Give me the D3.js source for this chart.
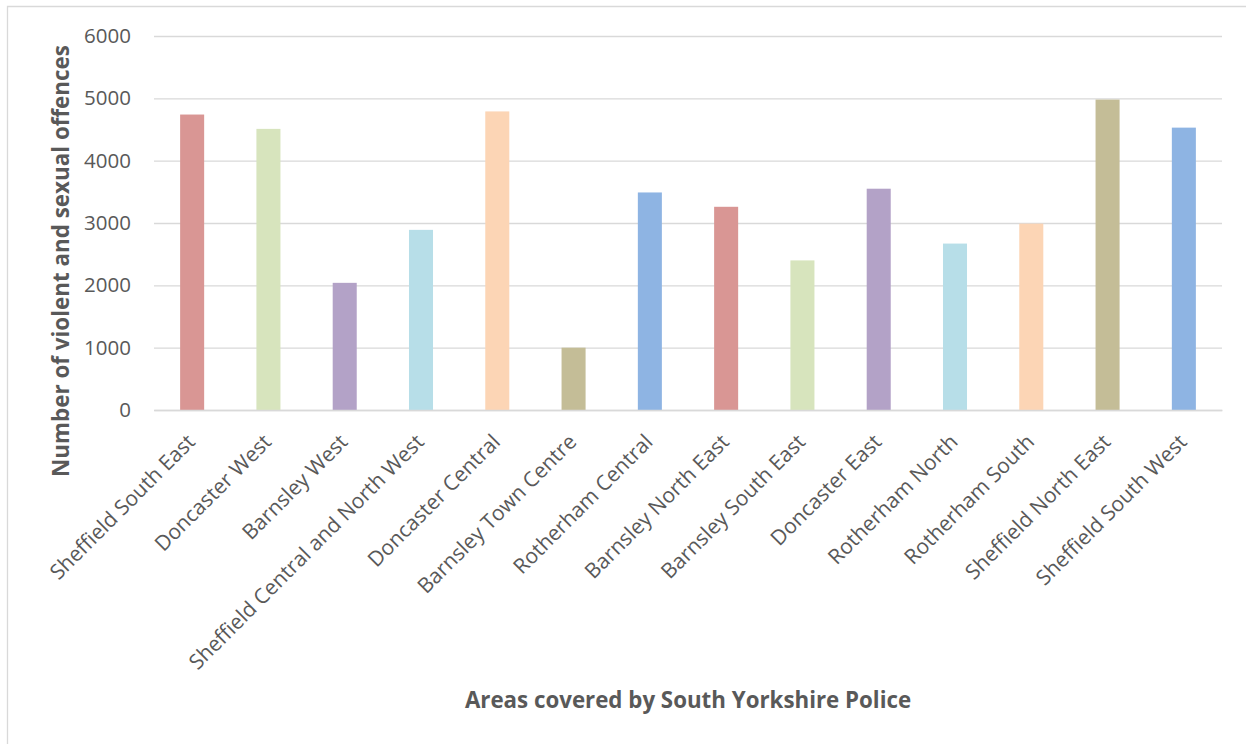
<!DOCTYPE html>
<html>
<head>
<meta charset="utf-8">
<script src="https://cdn.jsdelivr.net/npm/d3@7"></script>
<style>
  html, body { margin: 0; padding: 0; background: #ffffff; }
  svg { display: block; }
  text { font-family: "Open Sans", Lato, sans-serif; fill: #595959; }
</style>
</head>
<body>
<svg id="chart" width="1246" height="744"></svg>
<script>
// Areas covered by South Yorkshire Police
const categories = [
  "Sheffield South East",
  "Doncaster West",
  "Barnsley West",
  "Sheffield Central and North West",
  "Doncaster Central",
  "Barnsley Town Centre",
  "Rotherham Central",
  "Barnsley North East",
  "Barnsley South East",
  "Doncaster East",
  "Rotherham North",
  "Rotherham South",
  "Sheffield North East",
  "Sheffield South West"
];

// Number of violent and sexual offences per area
const offences = [4740, 4510, 2040, 2890, 4790, 1000, 3490, 3260, 2400, 3550, 2670, 2990, 4980, 4530];

const yTicks = [0, 1000, 2000, 3000, 4000, 5000, 6000];

// Bar colours cycle through this palette
const palette = ["#D99694", "#D7E4BD", "#B3A2C7", "#B7DEE8", "#FCD5B5", "#C4BD97", "#8EB4E3"];

const yTitle = "Number of violent and sexual offences";
const xTitle = "Areas covered by South Yorkshire Police";

const W = 1246, H = 744;
const plot = { left: 154, right: 1222, top: 36, bottom: 410 };
const FONT = "'Open Sans', Lato, sans-serif";

const svg = d3.select("#chart");

// chart frame (left and top edges)
svg.append("path")
  .attr("d", `M7.5,${H} L7.5,6.5 L${W},6.5`)
  .attr("fill", "none")
  .attr("stroke", "#d9d9d9")
  .attr("stroke-width", 1.3);

const x = d3.scaleBand().domain(categories).range([plot.left, plot.right]).paddingInner(0).paddingOuter(0);
const y = d3.scaleLinear().domain([0, 6000]).range([plot.bottom, plot.top]);

// gridlines and value labels
const yAxis = svg.append("g")
  .attr("transform", `translate(${plot.left},0)`)
  .call(d3.axisLeft(y).tickValues(yTicks).tickFormat(d3.format("d"))
    .tickSize(-(plot.right - plot.left)).tickPadding(23));
yAxis.select(".domain").remove();
yAxis.selectAll(".tick line").attr("stroke", "#d9d9d9").attr("stroke-width", 1.3);
yAxis.selectAll(".tick text")
  .style("font-family", FONT)
  .style("font-size", "20.5px")
  .attr("fill", "#595959");

// bars
const barW = x.bandwidth() * 0.315;
svg.append("g").selectAll("rect")
  .data(categories)
  .join("rect")
  .attr("x", d => x(d) + (x.bandwidth() - barW) / 2)
  .attr("width", barW)
  .attr("y", (d, i) => y(offences[i]))
  .attr("height", (d, i) => y(0) - y(offences[i]))
  .attr("fill", (d, i) => palette[i % palette.length]);

// category axis
const xAxis = svg.append("g")
  .attr("transform", `translate(0,${plot.bottom})`)
  .call(d3.axisBottom(x).tickSize(0).tickSizeOuter(0));
xAxis.select(".domain").attr("stroke", "#d9d9d9").attr("stroke-width", 1.3);
xAxis.selectAll(".tick text")
  .style("font-family", FONT)
  .style("font-size", "21px")
  .attr("fill", "#595959")
  .attr("text-anchor", "end")
  .attr("y", 0)
  .attr("dy", "0.35em")
  .attr("transform", "translate(-1,28) rotate(-45)");

// axis titles
svg.append("text")
  .attr("transform", `translate(61,${(plot.top + plot.bottom) / 2 + 38}) rotate(-90)`)
  .attr("text-anchor", "middle")
  .attr("dy", "0.35em")
  .style("font-family", FONT)
  .style("font-size", "22.4px")
  .style("font-weight", "bold")
  .text(yTitle);

svg.append("text")
  .attr("x", 688)
  .attr("y", 708)
  .attr("text-anchor", "middle")
  .style("font-family", FONT)
  .style("font-size", "22.3px")
  .style("font-weight", "bold")
  .text(xTitle);
</script>
</body>
</html>
